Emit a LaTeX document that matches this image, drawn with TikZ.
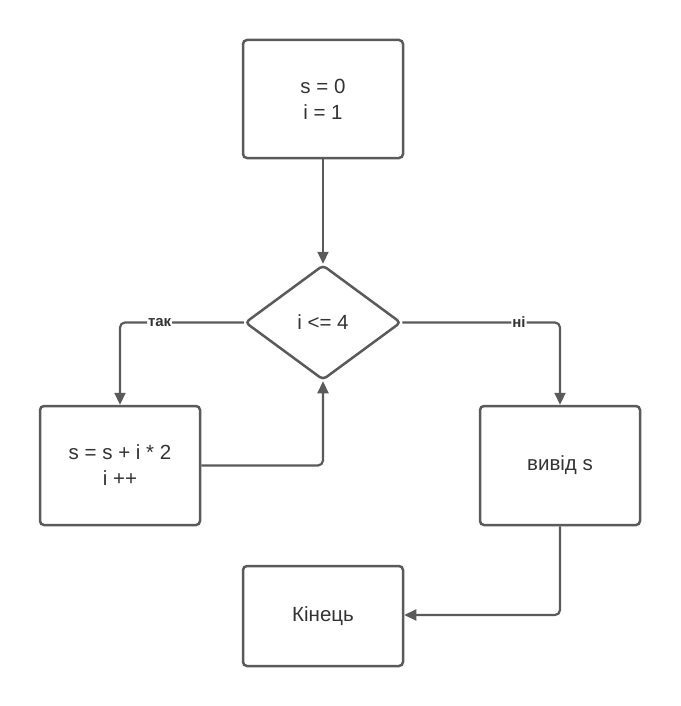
\documentclass[tikz,border=0pt]{standalone}
\usepackage{fontspec}
\setmainfont{Liberation Sans}
\usetikzlibrary{shapes.geometric,arrows.meta}
\definecolor{ln}{HTML}{5A5A5A}
\definecolor{tx}{HTML}{333333}
\tikzset{
  box/.style={draw=ln, line width=2.5pt, rounded corners=4pt, minimum width=160pt, text=tx, font=\fontsize{20.5}{26}\selectfont, align=center, inner sep=0pt},
  dec/.style={draw=ln, line width=2.5pt, rounded corners=4pt, shape=diamond, minimum width=156pt, minimum height=115pt, inner sep=0pt, text=tx, font=\fontsize{20.5}{26}\selectfont},
  conn/.style={draw=ln, line width=2.2pt, rounded corners=5pt, -{Triangle[length=12pt,width=11pt]}},
  lbl/.style={fill=white, text=tx, font=\bfseries\fontsize{15}{17}\selectfont, inner sep=1pt}
}
\begin{document}
\begin{tikzpicture}[x=1pt,y=-1pt]
\useasboundingbox (0,0) rectangle (680,706);
\node[box, minimum height=118pt] (init) at (323,99) {s = 0\\i = 1};
\node[dec] (cond) at (323,322.5) {i <= 4};
\node[box, minimum height=119pt] (body) at (120,465.5) {s = s + i * 2\\i ++};
\node[box, minimum height=119pt] (out) at (560,465.5) {вивід s};
\node[box, minimum height=100pt] (end) at (323,616) {Кінець};
\draw[conn] (init.south) -- (cond.north);
\draw[conn] (cond.west) -- (120,322.5) node[lbl, pos=0.68] {так} -- (body.north);
\draw[conn] (cond.east) -- (560,322.5) node[lbl, pos=0.74] {ні} -- (out.north);
\draw[conn] (body.east) -- (323,465.5) -- (cond.south);
\draw[conn] (out.south) -- (560,615) -- (end.east |- 0,615);
\end{tikzpicture}
\end{document}
